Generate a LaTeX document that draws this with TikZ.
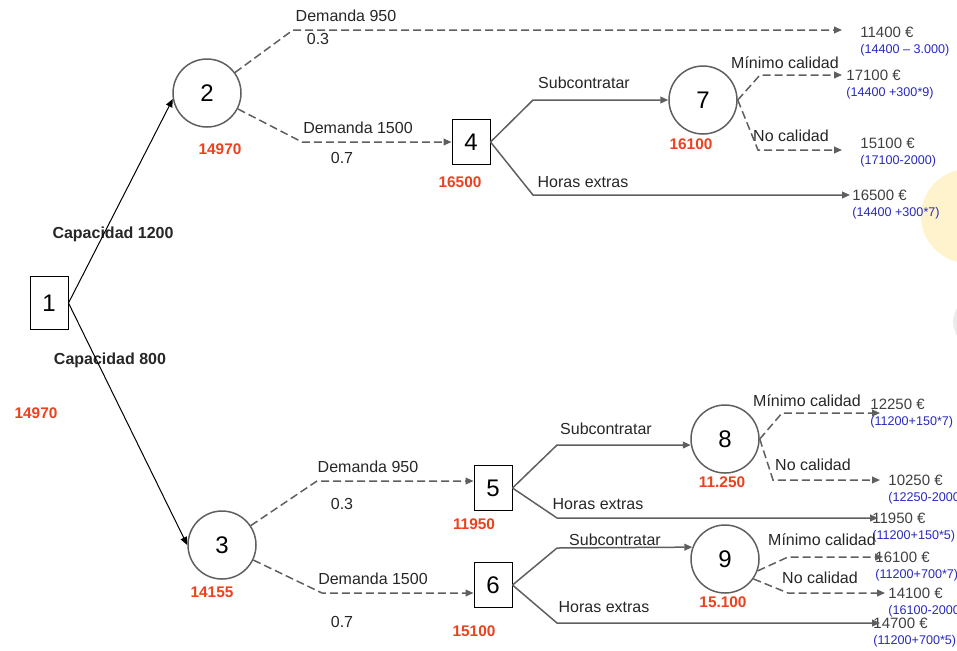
\documentclass[tikz,border=0pt]{standalone}
\usepackage{fontspec}
\setmainfont{Liberation Sans}
\usepackage{tikz}
\usetikzlibrary{arrows.meta, calc, positioning}
\definecolor{evred}{RGB}{235,65,30}
\definecolor{calcblue}{RGB}{40,40,190}
\definecolor{linegray}{RGB}{95,95,95}
\definecolor{bgyellow}{RGB}{255,243,205}
\tikzset{%
    edge/.style={%
        -{Triangle[length=4pt, width=3.4pt]},
        line width=0.5pt,
        black,
    },
    choice/.style={%
        edge,
        line width=0.75pt,
        draw=linegray,
    },
    event/.style={%
        edge,
        line width=0.75pt,
        draw=linegray,
        dash pattern=on 4pt off 2pt,
    },
    decision/.style={%
        rectangle,
        draw=black, line width=0.5pt,
        minimum width=19pt,
        minimum height=22.5pt,
        inner sep=0pt,
        font=\fontsize{12}{14}\selectfont,
    },
    chance/.style={%
        circle,
        draw=linegray, line width=0.75pt,
        minimum size=34pt,
        inner sep=0pt,
        font=\fontsize{12}{14}\selectfont,
    },
    branch/.style={%
        inner sep=0pt,
        text=black!85,
        font=\fontsize{8}{9}\selectfont,
    },
    caplabel/.style={%
        inner sep=0pt,
        text=black!85,
        font=\fontsize{8}{9}\selectfont\bfseries,
    },
    ev/.style={%
        inner sep=0pt,
        text=evred,
        font=\fontsize{7.7}{9}\selectfont\bfseries,
    },
    payoff/.style={%
        inner xsep=0pt, inner ysep=1pt,
        text=black!75,
        font=\fontsize{7.5}{9}\selectfont,
    },
    calcnote/.style={%
        inner xsep=0pt, inner ysep=1pt,
        text=calcblue,
        font=\fontsize{6.3}{7.5}\selectfont,
    },
}

\begin{document}
\begin{tikzpicture}[x=0.5pt, y=-0.5pt]
	\useasboundingbox (0,0) rectangle (957,650);

	% background decoration
	\fill[bgyellow] (968,216) circle[radius=23.5pt];
	\fill[black!8] (978,322) circle[radius=12.5pt];

	% decision and chance nodes
	\node [decision, minimum height=26.5pt] at (49,303) (d1) {1};
	\node [chance] at (207,93) (c2) {2};
	\node [chance] at (222,545) (c3) {3};
	\node [decision] at (471,142) (d4) {4};
	\node [decision] at (493,488) (d5) {5};
	\node [decision] at (493,585) (d6) {6};
	\node [chance] at (703,100) (c7) {7};
	\node [chance] at (725,439) (c8) {8};
	\node [chance] at (725,559) (c9) {9};

	% expected values
	\node [ev] at (36,413) (e1) {14970};
	\node [ev] at (220,149) (e2) {14970};
	\node [ev] at (212,592) (e3) {14155};
	\node [ev] at (460,182) (e4) {16500};
	\node [ev] at (474,524) (e5) {11950};
	\node [ev] at (474,631) (e6) {15100};
	\node [ev] at (691,144) (e7) {16100};
	\node [ev] at (722,482) (e8) {11.250};
	\node [ev] at (723,602) (e9) {15.100};

	% arrow ends
	\coordinate (t1) at (842,30);
	\coordinate (t2) at (842,75);
	\coordinate (t3) at (842,150);
	\coordinate (t4) at (850,195);
	\coordinate (t5) at (880,413);
	\coordinate (t6) at (880,480);
	\coordinate (t7) at (878,518);
	\coordinate (t8) at (883,557);
	\coordinate (t9) at (885,593);
	\coordinate (t10) at (880,623);

	% payoffs
	\node [payoff, right=9pt of t1, yshift=-1pt] (v1) {11400 €};
	\node [payoff, right=2pt of t2] (v2) {17100 €};
	\node [payoff, right=9pt of t3, yshift=3.5pt] (v3) {15100 €};
	\node [payoff, right=1pt of t4] (v4) {16500 €};
	\node [payoff, right=-5pt of t5, yshift=4.5pt] (v5) {12250 €};
	\node [payoff, right=4pt of t6] (v6) {10250 €};
	\node [payoff, right=-3pt of t7] (v7) {11950 €};
	\node [payoff, right=-4pt of t8] (v8) {16100 €};
	\node [payoff, right=1.5pt of t9] (v9) {14100 €};
	\node [payoff, right=-3.5pt of t10] (v10) {14700 €};

	\node [calcnote, below=1pt of v1.south west, anchor=north west] (f1) {(14400 – 3.000)};
	\node [calcnote, below=1pt of v2.south west, anchor=north west] (f2) {(14400 +300*9)};
	\node [calcnote, below=1pt of v3.south west, anchor=north west] (f3) {(17100-2000)};
	\node [calcnote, below=1pt of v4.south west, anchor=north west] (f4) {(14400 +300*7)};
	\node [calcnote, below=1pt of v5.south west, anchor=north west] (f5) {(11200+150*7)};
	\node [calcnote, below=1pt of v6.south west, anchor=north west] (f6) {(12250-2000};
	\node [calcnote, below=1pt of v7.south west, anchor=north west] (f7) {(11200+150*5)};
	\node [calcnote, below=1pt of v8.south west, anchor=north west] (f8) {(11200+700*7)};
	\node [calcnote, below=1pt of v9.south west, anchor=north west] (f9) {(16100-2000};
	\node [calcnote, below=1pt of v10.south west, anchor=north west] (f10) {(11200+700*5)};

	% branch labels
	\node [caplabel] at (113,234) (l12) {Capacidad 1200};
	\node [caplabel] at (110,360) (l13) {Capacidad 800};

	\node [branch] at (346,16) (l2a) {Demanda 950};
	\node [branch] at (318,39) (p2a) {0.3};
	\node [branch] at (358,128) (l2b) {Demanda 1500};
	\node [branch] at (342,158) (p2b) {0.7};
	\node [branch] at (368,467) (l3a) {Demanda 950};
	\node [branch] at (342,504) (p3a) {0.3};
	\node [branch] at (373,579) (l3b) {Demanda 1500};
	\node [branch] at (342,622) (p3b) {0.7};

	\node [branch] at (584,83) (l4a) {Subcontratar};
	\node [branch] at (583,182) (l4b) {Horas extras};
	\node [branch] at (606,429) (l5a) {Subcontratar};
	\node [branch] at (598,504) (l5b) {Horas extras};
	\node [branch] at (615,540) (l6a) {Subcontratar};
	\node [branch] at (604,607) (l6b) {Horas extras};

	\node [branch] at (785,63) (l7a) {Mínimo calidad};
	\node [branch] at (791,136) (l7b) {No calidad};
	\node [branch] at (807,401) (l8a) {Mínimo calidad};
	\node [branch] at (813,465) (l8b) {No calidad};
	\node [branch] at (822,540) (l9a) {Mínimo calidad};
	\node [branch] at (820,578) (l9b) {No calidad};

	% connectors
	\draw[edge] (d1.east) -- (c2.190);
	\draw[edge] (d1.east) -- (c3.west);

	\draw[event] (c2) -- (293,30) -- (t1);
	\draw[event] (c2) -- (302,142) -- (d4.west);
	\draw[event] (c3) -- (317,481) -- ([yshift=3.5pt]d5.west);
	\draw[event] (c3) -- (322,593) -- ([yshift=-4pt]d6.west);

	\draw[choice] (d4.east) -- (533,100) -- (c7.west);
	\draw[choice] (d4.east) -- (533,195) -- (t4);
	\draw[choice] (d5.east) -- (557,445) -- (c8.190);
	\draw[choice] (d5.east) -- (557,518) -- (t7);
	\draw[choice] (d6.east) -- (557,548) -- (c9.160);
	\draw[choice] (d6.east) -- (557,623) -- (t10);

	\draw[event] (c7.east) -- (760,75) -- (t2);
	\draw[event] (c7.east) -- (758,150) -- (t3);
	\draw[event] (c8.east) -- (782,413) -- (t5);
	\draw[event] (c8.east) -- (773,480) -- (t6);
	\draw[event] (c9.-20) -- (788,557) -- (t8);
	\draw[event] (c9.-35) -- (788,593) -- (t9);
\end{tikzpicture}
\end{document}
